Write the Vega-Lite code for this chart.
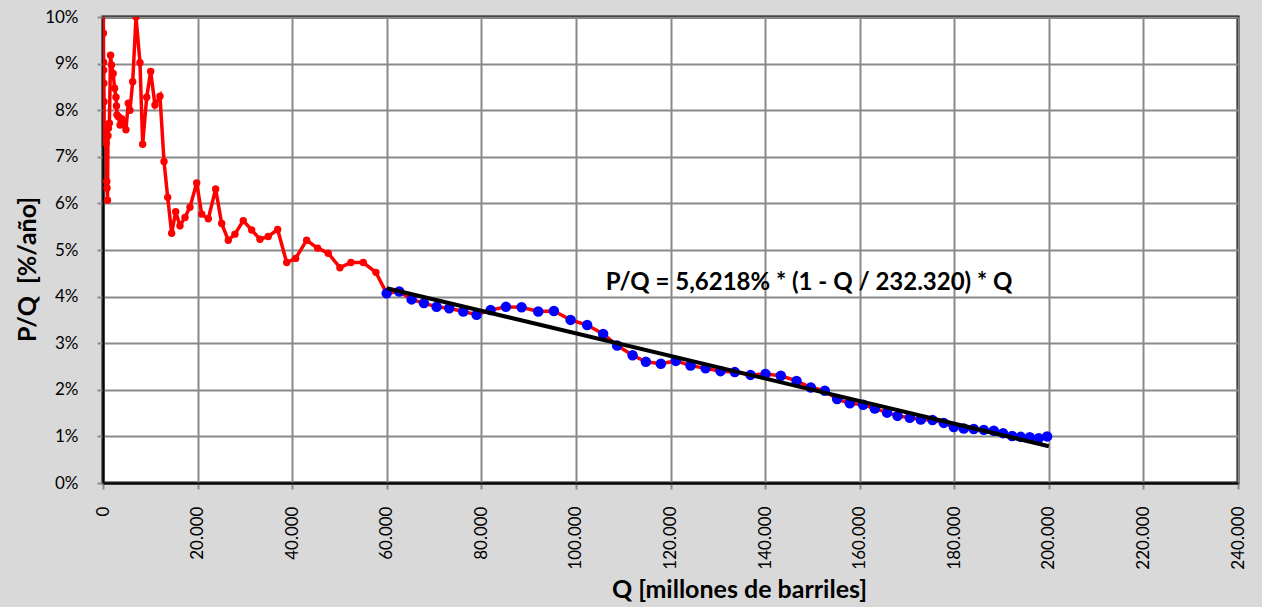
{
  "$schema": "https://vega.github.io/schema/vega-lite/v6.json",
  "width": 1135,
  "height": 466,
  "autosize": {"type": "none"},
  "padding": {"left": 103, "top": 17, "right": 24, "bottom": 124},
  "background": "#d9d9d9",
  "config": {
    "font": "Lato",
    "view": {"fill": "#ffffff", "stroke": "#000000", "strokeWidth": 3},
    "locale": {"number": {"decimal": ",", "thousands": ".", "grouping": [3], "currency": ["", " €"]}},
    "axis": {
      "gridColor": "#8a8a8a", "gridWidth": 2, "gridOpacity": 1,
      "tickColor": "#8a8a8a", "tickSize": 6, "tickWidth": 2,
      "domainColor": "#000000", "domainWidth": 2,
      "labelFont": "Lato", "labelFontSize": 17, "labelColor": "#000000",
      "titleFont": "Lato", "titleFontSize": 25, "titleFontWeight": "bold", "titleColor": "#000000"
    }
  },
  "datasets": {
    "serie": [
      {"Q": 50, "pq": 10.6}, {"Q": 90, "pq": 9.65}, {"Q": 120, "pq": 9.03}, {"Q": 150, "pq": 8.86},
      {"Q": 180, "pq": 8.58}, {"Q": 220, "pq": 8.18}, {"Q": 260, "pq": 7.54}, {"Q": 560, "pq": 7.38},
      {"Q": 680, "pq": 7.29}, {"Q": 800, "pq": 6.47}, {"Q": 850, "pq": 6.33}, {"Q": 950, "pq": 6.07},
      {"Q": 1050, "pq": 7.45}, {"Q": 1150, "pq": 7.61}, {"Q": 1350, "pq": 7.72}, {"Q": 1600, "pq": 9.18},
      {"Q": 1800, "pq": 8.97}, {"Q": 2150, "pq": 8.79}, {"Q": 2450, "pq": 8.47}, {"Q": 2750, "pq": 8.28},
      {"Q": 2850, "pq": 8.09}, {"Q": 2950, "pq": 7.9}, {"Q": 3250, "pq": 7.86}, {"Q": 3600, "pq": 7.68},
      {"Q": 3950, "pq": 7.82}, {"Q": 4300, "pq": 7.75}, {"Q": 4850, "pq": 7.58}, {"Q": 5350, "pq": 8.15},
      {"Q": 5700, "pq": 8.0}, {"Q": 6280, "pq": 8.61}, {"Q": 6980, "pq": 10.0}, {"Q": 7820, "pq": 9.02},
      {"Q": 8390, "pq": 7.27}, {"Q": 9240, "pq": 8.28}, {"Q": 10080, "pq": 8.83}, {"Q": 10990, "pq": 8.11},
      {"Q": 12050, "pq": 8.3}, {"Q": 12900, "pq": 6.9}, {"Q": 13680, "pq": 6.13}, {"Q": 14520, "pq": 5.36},
      {"Q": 15370, "pq": 5.82}, {"Q": 16280, "pq": 5.52}, {"Q": 17340, "pq": 5.7}, {"Q": 18390, "pq": 5.92},
      {"Q": 19810, "pq": 6.44}, {"Q": 20870, "pq": 5.77}, {"Q": 22260, "pq": 5.67}, {"Q": 23820, "pq": 6.31},
      {"Q": 25090, "pq": 5.57}, {"Q": 26490, "pq": 5.21}, {"Q": 27900, "pq": 5.34}, {"Q": 29660, "pq": 5.63},
      {"Q": 31440, "pq": 5.43}, {"Q": 33190, "pq": 5.23}, {"Q": 34940, "pq": 5.29}, {"Q": 36930, "pq": 5.44},
      {"Q": 38840, "pq": 4.73}, {"Q": 40740, "pq": 4.82}, {"Q": 43060, "pq": 5.21}, {"Q": 45390, "pq": 5.04},
      {"Q": 47630, "pq": 4.93}, {"Q": 50100, "pq": 4.62}, {"Q": 52430, "pq": 4.73}, {"Q": 55030, "pq": 4.73},
      {"Q": 57710, "pq": 4.52}, {"Q": 59980, "pq": 4.07}, {"Q": 62640, "pq": 4.11}, {"Q": 65260, "pq": 3.94},
      {"Q": 67860, "pq": 3.86}, {"Q": 70540, "pq": 3.78}, {"Q": 73210, "pq": 3.75}, {"Q": 76170, "pq": 3.68},
      {"Q": 79000, "pq": 3.61}, {"Q": 81960, "pq": 3.71}, {"Q": 85200, "pq": 3.78}, {"Q": 88510, "pq": 3.77},
      {"Q": 92030, "pq": 3.68}, {"Q": 95340, "pq": 3.69}, {"Q": 98870, "pq": 3.5}, {"Q": 102380, "pq": 3.39},
      {"Q": 105760, "pq": 3.2}, {"Q": 108720, "pq": 2.95}, {"Q": 111980, "pq": 2.74}, {"Q": 114790, "pq": 2.6},
      {"Q": 117960, "pq": 2.56}, {"Q": 121130, "pq": 2.62}, {"Q": 124240, "pq": 2.52}, {"Q": 127410, "pq": 2.46},
      {"Q": 130580, "pq": 2.4}, {"Q": 133600, "pq": 2.38}, {"Q": 136920, "pq": 2.32}, {"Q": 140090, "pq": 2.34},
      {"Q": 143330, "pq": 2.3}, {"Q": 146650, "pq": 2.19}, {"Q": 149670, "pq": 2.05}, {"Q": 152630, "pq": 1.98},
      {"Q": 155230, "pq": 1.8}, {"Q": 157920, "pq": 1.71}, {"Q": 160730, "pq": 1.68}, {"Q": 163200, "pq": 1.6},
      {"Q": 165800, "pq": 1.51}, {"Q": 168000, "pq": 1.44}, {"Q": 170600, "pq": 1.4}, {"Q": 172930, "pq": 1.36},
      {"Q": 175400, "pq": 1.35}, {"Q": 177790, "pq": 1.29}, {"Q": 179900, "pq": 1.2}, {"Q": 182020, "pq": 1.17},
      {"Q": 184130, "pq": 1.16}, {"Q": 186250, "pq": 1.14}, {"Q": 188360, "pq": 1.12}, {"Q": 190320, "pq": 1.07},
      {"Q": 192230, "pq": 1.01}, {"Q": 194060, "pq": 0.99}, {"Q": 195970, "pq": 0.98}, {"Q": 197870, "pq": 0.96},
      {"Q": 199630, "pq": 1.0}
    ],
    "ajuste": [
      {"Q": 60000, "pq": 4.18},
      {"Q": 200000, "pq": 0.79}
    ]
  },
  "layer": [
    {
      "data": {"name": "serie"},
      "mark": {"type": "line", "color": "#ff0000", "strokeWidth": 3.5, "clip": true,
               "point": {"filled": true, "color": "#ff0000", "size": 55}},
      "encoding": {
        "x": {"field": "Q", "type": "quantitative",
              "scale": {"domain": [0, 240000], "nice": false},
              "axis": {"values": [0, 20000, 40000, 60000, 80000, 100000, 120000, 140000, 160000, 180000, 200000, 220000, 240000],
                       "format": ",d", "labelAngle": -90, "labelAlign": "right", "labelBaseline": "middle",
                       "labelPadding": 17, "title": "Q [millones de barriles]",
                       "titleX": 636, "titleY": 114, "titleBaseline": "alphabetic", "titleAnchor": "middle"}},
        "y": {"field": "pq", "type": "quantitative",
              "scale": {"domain": [0, 10], "nice": false},
              "axis": {"values": [0, 1, 2, 3, 4, 5, 6, 7, 8, 9, 10],
                       "labelExpr": "datum.value + '%'", "labelPadding": 19,
                       "title": "P/Q \u00a0[%/año]", "titleX": -68, "titleY": 252, "titleAngle": -90,
                       "titleBaseline": "alphabetic", "titleAlign": "center"}}
      }
    },
    {
      "data": {"name": "serie"},
      "transform": [{"filter": "datum.Q >= 59000"}],
      "mark": {"type": "circle", "color": "#0000ff", "opacity": 1, "size": 110},
      "encoding": {
        "x": {"field": "Q", "type": "quantitative"},
        "y": {"field": "pq", "type": "quantitative"}
      }
    },
    {
      "data": {"name": "ajuste"},
      "mark": {"type": "line", "color": "#000000", "strokeWidth": 4},
      "encoding": {
        "x": {"field": "Q", "type": "quantitative"},
        "y": {"field": "pq", "type": "quantitative"}
      }
    },
    {
      "data": {"values": [{"label": "P/Q = 5,6218% * (1 - Q / 232.320) * Q"}]},
      "mark": {"type": "text", "font": "Lato", "fontSize": 24, "fontWeight": "bold", "color": "#000000",
               "align": "center", "baseline": "middle"},
      "encoding": {
        "x": {"datum": 149300, "type": "quantitative"},
        "y": {"datum": 4.29, "type": "quantitative"},
        "text": {"field": "label"}
      }
    }
  ]
}
